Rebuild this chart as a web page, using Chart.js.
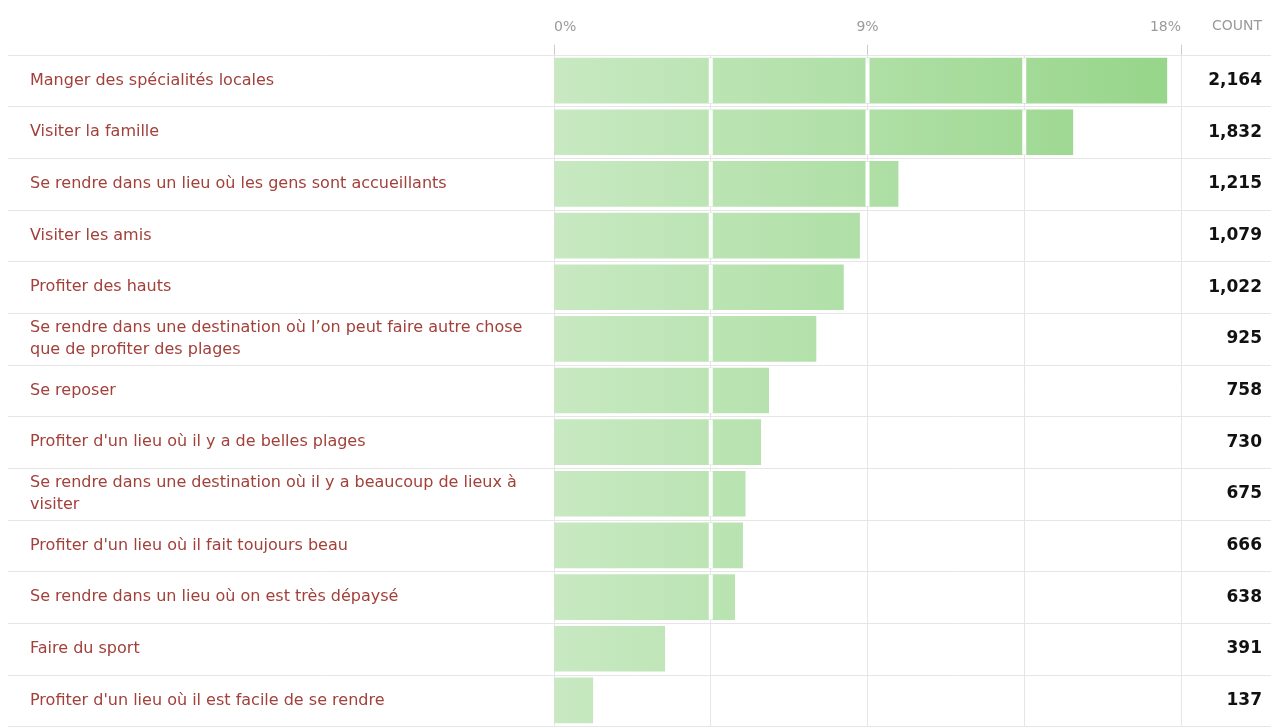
<!DOCTYPE html>
<html>
<head>
<meta charset="utf-8">
<script src="https://cdn.jsdelivr.net/npm/chart.js@4/dist/chart.umd.min.js"></script>
<style>
  html, body { margin: 0; padding: 0; background: #fff; overflow: hidden; }
  #wrap { width: 1271px; height: 740px; position: relative; }
</style>
</head>
<body>
<div id="wrap"><canvas id="motifs"></canvas></div>
<script>
// --- données ---
const motifs = [
    'Manger des spécialités locales',
    'Visiter la famille',
    'Se rendre dans un lieu où les gens sont accueillants',
    'Visiter les amis',
    'Profiter des hauts',
    ['Se rendre dans une destination où l’on peut faire autre chose', 'que de profiter des plages'],
    'Se reposer',
    'Profiter d\'un lieu où il y a de belles plages',
    ['Se rendre dans une destination où il y a beaucoup de lieux à', 'visiter'],
    'Profiter d\'un lieu où il fait toujours beau',
    'Se rendre dans un lieu où on est très dépaysé',
    'Faire du sport',
    'Profiter d\'un lieu où il est facile de se rendre'
];
const reponses = [2164, 1832, 1215, 1079, 1022, 925, 758, 730, 675, 666, 638, 391, 137];
const totalReponses = 12300; // base des pourcentages
const pourcentages = reponses.map(n => n / totalReponses * 100);
const ticksPct = [0, 9, 18];

const COULEUR_LIBELLE = '#a2403a';
const COULEUR_GRILLE = '#e6e6e6';

// lignes de séparation entre les lignes du tableau + en-tête COUNT
const tableauPlugin = {
    id: 'tableau',
    beforeDatasetsDraw(chart) {
        const { ctx, scales: { y } } = chart;
        const pas = y.getPixelForValue(1) - y.getPixelForValue(0);
        ctx.save();
        ctx.strokeStyle = COULEUR_GRILLE;
        ctx.lineWidth = 1;
        for (let i = 0; i <= motifs.length; i++) {
            const py = Math.round(y.getPixelForValue(i) - pas / 2) + 0.5;
            ctx.beginPath();
            ctx.moveTo(8, py);
            ctx.lineTo(chart.width, py);
            ctx.stroke();
        }
        ctx.restore();
    },
    afterDatasetsDraw(chart) {
        const { ctx, scales: { x } } = chart;
        const meta = chart.getDatasetMeta(0);
        ctx.save();
        ctx.fillStyle = '#ffffff';
        // coupures blanches dans les barres au niveau des graduations
        [4.5, 9, 13.5].forEach(v => {
            const px = x.getPixelForValue(v);
            meta.data.forEach(bar => {
                if (bar.x > px + 2) {
                    ctx.fillRect(px - 2, bar.y - bar.height / 2, 4, bar.height);
                }
            });
        });
        ctx.restore();
    },
    afterDraw(chart) {
        const { ctx } = chart;
        ctx.save();
        ctx.font = '14px "DejaVu Sans"';
        ctx.fillStyle = '#9a9a9a';
        ctx.textAlign = 'right';
        ctx.textBaseline = 'middle';
        ctx.fillText('COUNT', chart.width - 9, 26);
        ctx.restore();
    }
};

const ctx = document.getElementById('motifs');
const gradientBarres = (context) => {
    const area = context.chart.chartArea;
    if (!area) return '#b5e2ad';
    const g = context.chart.ctx.createLinearGradient(area.left, 0, area.right, 0);
    g.addColorStop(0, '#c8e9c2');
    g.addColorStop(1, '#96d589');
    return g;
};

new Chart(ctx, {
    type: 'bar',
    data: {
        labels: motifs,
        datasets: [{
            data: pourcentages,
            backgroundColor: gradientBarres,
            borderWidth: 0,
            barThickness: 45
        }]
    },
    options: {
        indexAxis: 'y',
        responsive: true,
        maintainAspectRatio: false,
        animation: false,
        layout: { padding: { left: 30, right: 9, top: 10, bottom: 3 } },
        plugins: { legend: { display: false }, tooltip: { enabled: false } },
        scales: {
            x: {
                position: 'top',
                min: 0,
                max: 18,
                border: { display: false },
                grid: {
                    color: COULEUR_GRILLE,
                    tickLength: 10,
                    tickColor: (c) => ticksPct.includes(c.tick && c.tick.value) ? '#cccccc' : 'rgba(0,0,0,0)'
                },
                ticks: {
                    stepSize: 4.5,
                    align: 'inner',
                    padding: 9,
                    color: '#9a9a9a',
                    font: { family: '"DejaVu Sans"', size: 14 },
                    callback: (v) => ticksPct.includes(v) ? v + '%' : ''
                }
            },
            y: {
                position: 'left',
                border: { display: false },
                grid: { display: false },
                afterFit: (s) => { s.width = 524; },
                ticks: {
                    crossAlign: 'far',
                    color: COULEUR_LIBELLE,
                    font: { family: '"DejaVu Sans"', size: 16, lineHeight: 1.35 },
                    autoSkip: false
                }
            },
            compte: {
                type: 'category',
                axis: 'y',
                position: 'right',
                labels: reponses.map(n => n.toLocaleString('en-US')),
                border: { display: false },
                grid: { display: false },
                afterFit: (s) => { s.width = 81; },
                ticks: {
                    crossAlign: 'far',
                    color: '#111',
                    font: { family: '"DejaVu Sans"', size: 17, weight: 'bold' },
                    autoSkip: false
                }
            }
        }
    },
    plugins: [tableauPlugin]
});
</script>
</body>
</html>
